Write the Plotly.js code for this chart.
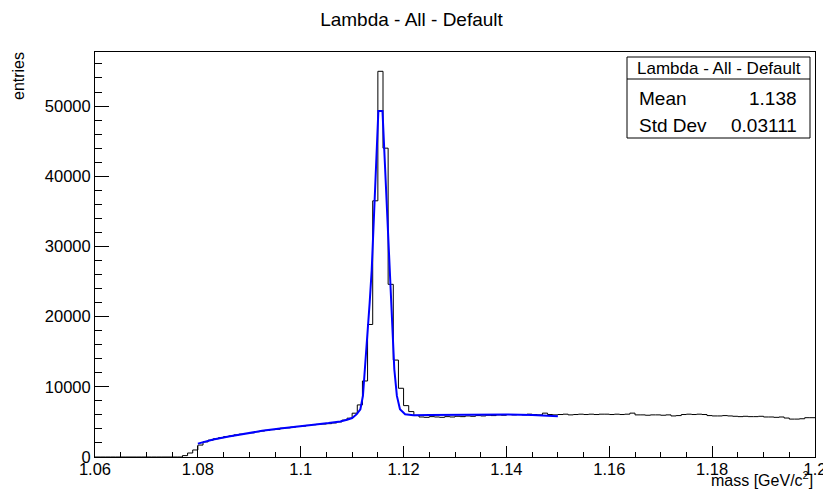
<!DOCTYPE html>
<html><head><meta charset="utf-8">
<script src="https://cdn.plot.ly/plotly-3.0.1.min.js"></script>
<style>html,body{margin:0;padding:0;background:#fff;}#chart{width:823px;height:499px;}</style>
</head><body><div id="chart"></div>
<script>
// ---- data ----
const chartTitle = "Lambda - All - Default";
const xTitle = "mass [GeV/c<sup>2</sup>]";
const yTitle = "entries";
const binLow = 1.06;
const binWidth = 0.001;
const counts = [
  0,0,0,0,0,0,0,0,0,0, 0,0,0,0,0,0,0,200,570,1000,
  1700,2150,2400,2600,2750,2900,3000,3150,3250,3350,
  3450,3600,3700,3800,3900,3950,4100,4150,4250,4350,
  4400,4500,4600,4650,4700,4750,4850,5000,5250,5530,
  6240,7420,10830,18880,36500,54950,44000,24600,13810,9790,
  7320,6470,5900,5700,5650,5750,5700,5650,5750,5700,
  5800,5750,5850,5800,5900,5850,5950,5900,6000,5950,
  6050,6000,6050,6000,6100,6050,6000,6250,6050,6000,
  6050,6100,6000,6050,6100,6050,6100,6050,6100,6100,
  6050,6100,6050,6100,6250,6000,6000,5950,6000,6000,
  5950,6000,5850,5900,6050,6100,6050,6100,6050,5900,
  5850,5850,5900,5850,5800,5750,5800,5750,5750,5800,
  5700,5700,5650,5700,5550,5400,5400,5450,5600,5600
];
const fitMass = [1.0800,1.0815,1.0830,1.0860,1.0900,1.0925,1.0960,1.0990,1.1025,1.1054,
  1.1077,1.1090,1.1100,1.1109,1.1116,1.1121,1.1125,1.1130,1.1134,1.1138,
  1.1151,1.1159,1.1173,1.1176,1.1178,1.1182,1.1187,1.1193,1.1203,1.1219,
  1.1250,1.1300,1.1400,1.1450,1.1500];
const fitEntries = [1900,2250,2500,2920,3450,3730,4050,4340,4600,4830,
  5050,5300,5550,6100,6800,8700,12500,17200,21900,26600,
  49300,49300,26600,21900,17200,12500,8700,6800,6100,5950,
  6000,6050,6050,6000,5800];
const xTickVals = [1.06,1.08,1.1,1.12,1.14,1.16,1.18,1.2];
const xTickText = ["1.06","1.08","1.1","1.12","1.14","1.16","1.18","1.2"];
const yTickVals = [0,10000,20000,30000,40000,50000];
const yTickText = ["0","10000","20000","30000","40000","50000"];
const statsTitle = "Lambda - All - Default";
const statsNames = ["Mean","Std Dev"];
const statsValues = ["1.138","0.03111"];

// ---- build step outline ----
const edges = [];
const stepY = [];
for (let i = 0; i <= counts.length; i++) {
  edges.push(+(binLow + i * binWidth).toFixed(4));
  stepY.push(i < counts.length ? counts[i] : counts[counts.length - 1]);
}

const W = 823, H = 499;
const M = {l: 95, r: 8, t: 52, b: 42};
const PW = W - M.l - M.r, PH = H - M.t - M.b;
const px = x => (x - M.l) / PW;
const py = y => (H - M.b - y) / PH;
const FONT = "Liberation Sans, Arial, sans-serif";

const traces = [
  {x: edges, y: stepY, type: 'scatter', mode: 'lines',
   line: {shape: 'hv', color: '#000000', width: 1}, hoverinfo: 'skip'},
  {x: fitMass, y: fitEntries, type: 'scatter', mode: 'lines',
   line: {color: '#0000ff', width: 2}, hoverinfo: 'skip'}
];

const box = {x0: 627, x1: 810, y0: 57, y1: 138, sep: 79};
const rowsY = [98, 125];
const annotations = [
  {text: yTitle, xref: 'paper', yref: 'paper', x: px(19), y: py(76), textangle: -90,
   xanchor: 'center', yanchor: 'middle', showarrow: false, font: {family: FONT, size: 16, color: '#000'}},
  {text: xTitle, xref: 'paper', yref: 'paper', x: px(815), y: py(479),
   xanchor: 'right', yanchor: 'middle', showarrow: false, font: {family: FONT, size: 16, color: '#000'}},
  {text: statsTitle, xref: 'paper', yref: 'paper', x: px((box.x0 + box.x1) / 2), y: py((box.y0 + box.sep) / 2),
   xanchor: 'center', yanchor: 'middle', showarrow: false, font: {family: FONT, size: 17, color: '#000'}}
];
statsNames.forEach((n, i) => {
  annotations.push({text: n, xref: 'paper', yref: 'paper', x: px(637), y: py(rowsY[i]),
    xanchor: 'left', yanchor: 'middle', showarrow: false, font: {family: FONT, size: 19, color: '#000'}});
  annotations.push({text: statsValues[i], xref: 'paper', yref: 'paper', x: px(799), y: py(rowsY[i]),
    xanchor: 'right', yanchor: 'middle', showarrow: false, font: {family: FONT, size: 19, color: '#000'}});
});

const layout = {
  width: W, height: H, margin: M,
  paper_bgcolor: '#fff', plot_bgcolor: '#fff', showlegend: false,
  font: {family: FONT, color: '#000'},
  title: {text: chartTitle, font: {family: FONT, size: 19, color: '#000'},
          x: 0.5, xref: 'container', xanchor: 'center', y: 1 - 19 / H, yref: 'container', yanchor: 'middle'},
  xaxis: {range: [1.06, 1.2], tickmode: 'array', tickvals: xTickVals, ticktext: xTickText,
          ticks: 'inside', ticklen: 11, tickwidth: 1, tickcolor: '#000', ticklabeloverflow: 'allow',
          ticklabelstandoff: -3,
          showline: true, mirror: true, linecolor: '#000', linewidth: 1,
          showgrid: false, zeroline: false, tickfont: {family: FONT, size: 16.5, color: '#000'},
          minor: {tick0: 1.06, dtick: 0.005, ticks: 'inside', ticklen: 5, tickcolor: '#000', tickwidth: 1, showgrid: false}},
  yaxis: {range: [0, 57700], tickmode: 'array', tickvals: yTickVals, ticktext: yTickText,
          ticks: 'inside', ticklen: 14, tickwidth: 1, tickcolor: '#000',
          showline: true, mirror: true, linecolor: '#000', linewidth: 1,
          showgrid: false, zeroline: false, tickfont: {family: FONT, size: 16.5, color: '#000'},
          minor: {tick0: 0, dtick: 2000, ticks: 'inside', ticklen: 7, tickcolor: '#000', tickwidth: 1, showgrid: false}},
  shapes: [
    {type: 'rect', xref: 'paper', yref: 'paper', x0: px(box.x0), x1: px(box.x1), y0: py(box.y1), y1: py(box.y0),
     line: {color: '#000', width: 1}, fillcolor: '#fff', layer: 'above'},
    {type: 'line', xref: 'paper', yref: 'paper', x0: px(box.x0), x1: px(box.x1), y0: py(box.sep), y1: py(box.sep),
     line: {color: '#000', width: 1}, layer: 'above'}
  ],
  annotations: annotations
};

Plotly.newPlot('chart', traces, layout, {staticPlot: true, displayModeBar: false});
</script>
</body></html>
